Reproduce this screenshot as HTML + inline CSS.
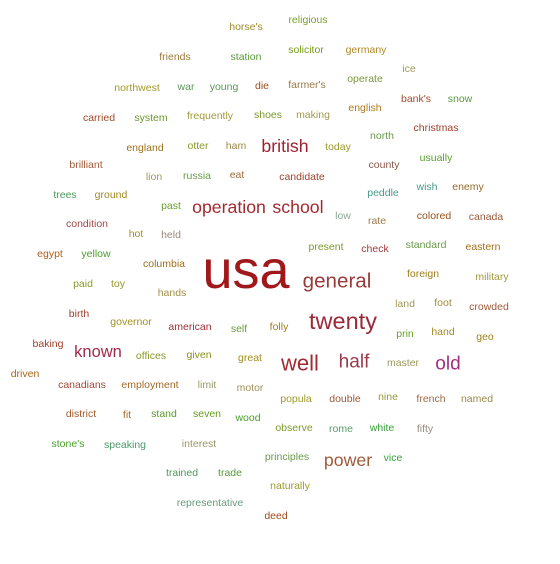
<!DOCTYPE html>
<html><head><meta charset="utf-8"><style>
html,body{margin:0;padding:0;background:#fff;}
svg{display:block;}
text{font-family:"Liberation Sans",sans-serif;}
</style></head><body>
<svg id="cloud" width="560" height="564" viewBox="0 0 560 564"></svg>
<script>
const words=["horse's","religious","friends","station","solicitor","germany","ice","northwest","war","young","die","farmer's","operate","bank's","snow","carried","system","frequently","shoes","making","english","christmas","england","otter","ham","british","today","north","brilliant","lion","russia","eat","candidate","county","usually","trees","ground","peddle","wish","enemy","past","operation","school","low","rate","colored","canada","condition","hot","held","egypt","yellow","columbia","present","check","standard","eastern","usa","general","foreign","military","paid","toy","hands","land","foot","crowded","birth","governor","twenty","american","self","folly","prin","hand","geo","baking","known","offices","given","great","well","half","master","old","driven","canadians","employment","limit","motor","popula","double","nine","french","named","district","fit","stand","seven","wood","observe","rome","white","fifty","stone's","speaking","interest","principles","power","vice","trained","trade","naturally","representative","deed"];
const cx=[246,308,175,246,306,366,409,137,186,224,262,307,365,416,460,99,151,210,268,313,365,436,145,198,236,285,338,382,86,154,197,237,302,384,436,65,111,383,427,468,171,229,298,343,377,434,486,87,136,171,50,96,164,326,375,426,483,246,337,423,492,83,118,172,405,443,489,79,131,343,190,239,279,405,443,485,48,98,151,199,250,300,354,403,448,25,82,150,207,250,296,345,388,431,477,81,127,164,207,248,294,341,382,425,68,125,199,287,348,393,182,230,290,210,276];
const cy=[27,20,57,57,50,50,69,88,87,87,86,85,79,99,99,118,118,116,115,115,108,128,148,146,146,146,147,136,165,177,176,175,177,165,158,195,195,193,187,187,206,207,207,216,221,216,217,224,234,235,254,254,264,247,249,245,247,270,281,274,277,284,284,293,304,303,307,314,322,321,327,329,327,334,332,337,344,352,356,355,358,363,362,363,364,374,385,385,385,388,399,399,397,399,399,414,415,414,414,418,428,429,428,429,444,445,444,457,460,458,473,473,486,503,516];
const weight=[1,1,1,1,1,1,1,1,1,1,1,1,1,1,1,1,1,1,1,1,1,1,1,1,1,3,1,1,1,1,1,1,1,1,1,1,1,1,1,1,1,3,3,1,1,1,1,1,1,1,1,1,1,1,1,1,1,10,4,1,1,1,1,1,1,1,1,1,1,5,1,1,1,1,1,1,1,2.6,1,1,1,4.5,3.5,1,3.5,1,1,1,1,1,1,1,1,1,1,1,1,1,1,1,1,1,1,1,1,1,1,1,3,1,1,1,1,1,1];
const colors=["#a08a2a","#7aa02a","#9a7a3a","#5a9a3a","#7a9a1a","#b08a2a","#a09a5a","#a09a2a","#5a9a5a","#5a9a5a","#a04a1a","#9a7a4a","#7a9a3a","#a04a2a","#5a9a3a","#a04a2a","#6a9a2a","#a09a3a","#7a9a2a","#a09a4a","#b0781a","#a0402a","#a0701a","#8a9a2a","#a08a4a","#a02030","#a09a2a","#6a9a4a","#a05a3a","#a09a5a","#6a9a4a","#9a6a3a","#a0402a","#8a5a4a","#5aa02a","#4a9a5a","#a08a2a","#4a9a8a","#4a9a8a","#9a6a2a","#6aa02a","#a02a30","#a02a30","#8aaa9a","#9a7a4a","#a0501a","#9a5a3a","#9a4a4a","#a0902a","#9a8a7a","#b0601a","#4aa02a","#a0701a","#7a9a2a","#a03a3a","#6a9a4a","#a0701a","#a0181a","#9a3a3a","#a0801a","#a09a3a","#8a9a2a","#9a9a2a","#a0904a","#a09a5a","#a08a3a","#a05a3a","#a0402a","#a0901a","#9a2a3a","#a0303a","#6a9a3a","#a0801a","#6aa02a","#a08a2a","#a0801a","#a0402a","#a02a4a","#8a9a2a","#8a901a","#a0901a","#a02a30","#9a3a4a","#9a9a5a","#a0307a","#a06a1a","#a04a3a","#a06a2a","#9a9a6a","#a0905a","#9a9a2a","#9a5a3a","#9a9a3a","#9a6a4a","#9a8a4a","#a05a2a","#a06a2a","#5a9a2a","#6a9a1a","#4aa02a","#7a9a2a","#5a9a6a","#3aa03a","#9a8a7a","#4aa02a","#4a9a6a","#9a9a6a","#6a9a4a","#a05a3a","#3aa03a","#4a9a5a","#5a9a3a","#9a9a2a","#6a9a7a","#a04a1a"];
const svg=document.getElementById('cloud');
const NS='http://www.w3.org/2000/svg';
function fontSize(w){return 10.5*w<14?10.5:(w>=10?54:9+w*2.9);}
words.forEach((w,i)=>{
  const t=document.createElementNS(NS,'text');
  t.setAttribute('x',cx[i]);
  t.setAttribute('y',cy[i]);
  t.setAttribute('text-anchor','middle');
  t.setAttribute('dominant-baseline','central');
  t.setAttribute('font-size',fontSize(weight[i]).toFixed(1));
  t.setAttribute('fill',colors[i]);
  t.textContent=w;
  
  
  svg.appendChild(t);
});
</script>
</body></html>
